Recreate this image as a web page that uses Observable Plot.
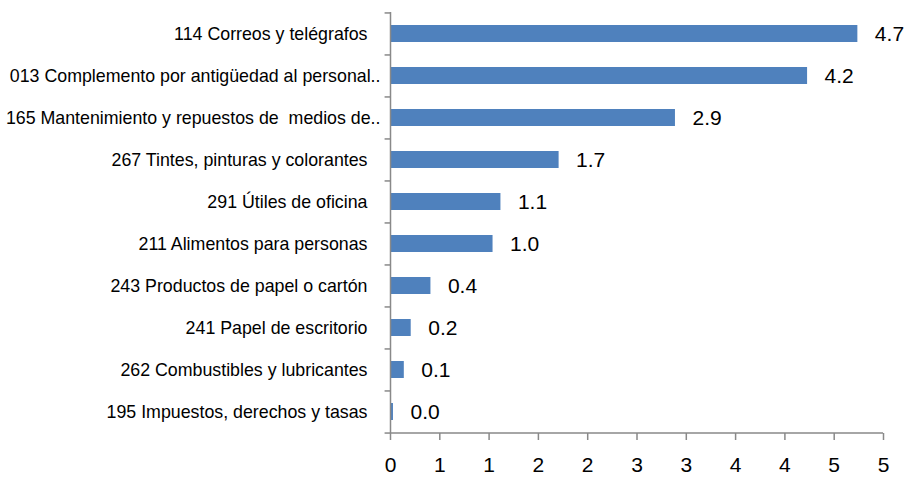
<!DOCTYPE html>
<html>
<head>
<meta charset="utf-8">
<script src="https://cdn.jsdelivr.net/npm/d3@7"></script>
<script src="https://cdn.jsdelivr.net/npm/@observablehq/plot@0.6"></script>
<style>
  html, body { margin: 0; padding: 0; background: #fff; }
</style>
</head>
<body>
<div id="chart"></div>
<script>
const categories = [
  "114 Correos y telégrafos",
  "013 Complemento por antigüedad al personal..",
  "165 Mantenimiento y repuestos de  medios de..",
  "267 Tintes, pinturas y colorantes",
  "291 Útiles de oficina",
  "211 Alimentos para personas",
  "243 Productos de papel o cartón",
  "241 Papel de escritorio",
  "262 Combustibles y lubricantes",
  "195 Impuestos, derechos y tasas"
];
const values = [4.74, 4.23, 2.89, 1.71, 1.12, 1.04, 0.41, 0.21, 0.14, 0.03];
const xTicks = [0, 0.5, 1, 1.5, 2, 2.5, 3, 3.5, 4, 4.5, 5];

const data = categories.map((c, i) => ({category: c, value: values[i]}));

const W = 909, H = 485, mTop = 12, mBottom = 52;
const step = (H - mTop - mBottom) / categories.length;
const axisColor = "#898989";
const font = '"Liberation Sans", Arial, sans-serif';

const chart = Plot.plot({
  width: W,
  height: H,
  marginLeft: 390,
  marginRight: 26,
  marginTop: mTop,
  marginBottom: mBottom,
  style: {fontFamily: font, background: "#fff"},
  x: {domain: [0, 5], label: null, axis: null},
  y: {domain: categories, paddingInner: 0.6, paddingOuter: 0.3, align: 0.5, label: null, axis: null},
  marks: [
    Plot.barX(data, {x: "value", y: "category", fill: "#4F81BD"}),
    Plot.text(data, {x: "value", y: "category", text: d => d.value.toFixed(1), textAnchor: "start", dx: 17, fontSize: 21, fill: "#000"}),
    // vertical axis line
    Plot.ruleX([0], {stroke: axisColor, strokeWidth: 1.5}),
    // category boundary tick marks (left of the axis)
    Plot.ruleY(categories, {y: d => d, x1: -0.055, x2: 0, dy: -step / 2, stroke: axisColor, strokeWidth: 1.5}),
    Plot.ruleY(categories.slice(-1), {y: d => d, x1: -0.055, x2: 0, dy: step / 2, stroke: axisColor, strokeWidth: 1.5}),
    // horizontal axis line
    Plot.ruleY(categories.slice(-1), {y: d => d, x1: 0, x2: 5, dy: step / 2, stroke: axisColor, strokeWidth: 1.5}),
    Plot.axisX({
      ticks: xTicks,
      tickFormat: d => String(Math.round(d)),
      tickSize: 7,
      tickPadding: 17,
      fontSize: 21,
      stroke: axisColor,
      strokeWidth: 1.5,
      color: "#000",
      label: null
    }),
    // category labels (full labels end at the same edge; truncated ones run a bit further)
    Plot.text(categories.filter(c => !c.endsWith("..")), {x: 0, y: d => d, text: d => d, textAnchor: "end", dx: -23, fontSize: 17.8, fill: "#000"}),
    Plot.text(categories.filter(c => c.endsWith("..")), {x: 0, y: d => d, text: d => d, textAnchor: "end", dx: -10, fontSize: 17.8, fill: "#000"})
  ]
});
document.getElementById("chart").appendChild(chart);
</script>
</body>
</html>
